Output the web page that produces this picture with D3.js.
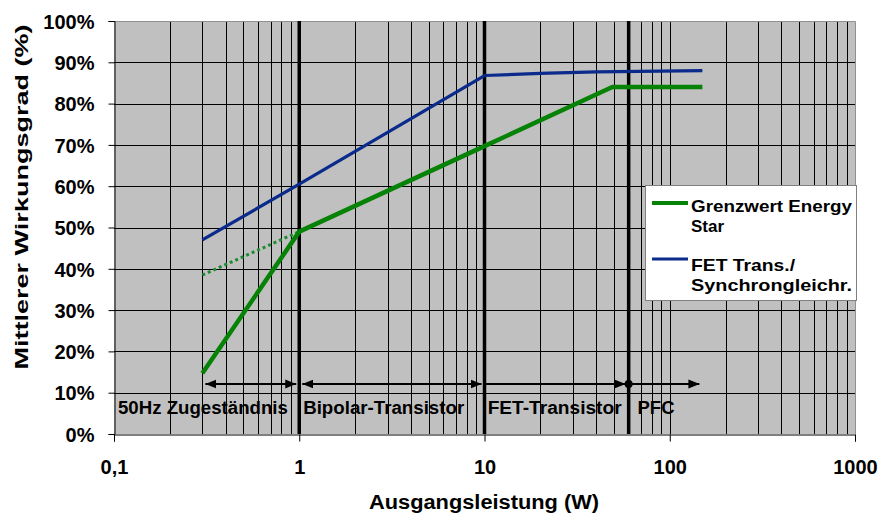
<!DOCTYPE html>
<html><head><meta charset="utf-8">
<script src="https://cdn.jsdelivr.net/npm/d3@7"></script>
<style>
body{margin:0;background:#fff;}
svg text{font-family:"Liberation Sans",Arial,sans-serif;font-weight:bold;fill:#000;}
</style></head>
<body><svg id="c" width="880" height="513"></svg>
<script>
// ---- data ----
const yTicks = [0,10,20,30,40,50,60,70,80,90,100];
const xTicks = [0.1,1,10,100,1000];
const xTickLabels = ["0,1","1","10","100","1000"];
const greenX = [0.3, 1, 10, 49, 150];
const greenY = [14.7, 49, 69.7, 84, 84];
const dottedX = [0.3, 1];
const dottedY = [38.5, 49];
const blueX = [0.3, 1, 10, 20, 40, 150];
const blueY = [47, 60.5, 86.8, 87.3, 87.7, 88];
const dividers = [1, 10, 60];
const regionLabels = ["50Hz Zugeständnis","Bipolar-Transistor","FET-Transistor","PFC"];
const regionLabelX = [0.105, 1.05, 10.4, 67];
const arrowFrom = [0.3, 1, 10, 60];
const arrowTo = [1, 10, 60, 150];
const arrowStartHead = [true, true, false, false];
const seriesNames = ["Grenzwert Energy Star","FET Trans./ Synchrongleichr."];

// ---- layout ----
const L=114, R=855, T=21, B=434;
const svg=d3.select("#c");
const x=d3.scaleLog().domain([0.1,1000]).range([L,R]);
const y=d3.scaleLinear().domain([0,100]).range([B,T]);

svg.append("rect").attr("x",L).attr("y",T).attr("width",R-L).attr("height",B-T).attr("fill","#c0c0c0");

// minor vertical grid
const minor=[];
for(let d=0.1; d<1000; d*=10){ for(let k=2;k<=9;k++) minor.push(d*k); }
svg.append("g").selectAll("line").data(minor.concat([1,10,100])).join("line")
 .attr("x1",d=>Math.round(x(d))+0.5).attr("x2",d=>Math.round(x(d))+0.5)
 .attr("y1",T).attr("y2",B).attr("stroke","#000").attr("stroke-width",1);
// horizontal grid
svg.append("g").selectAll("line").data(yTicks.slice(1)).join("line")
 .attr("x1",L).attr("x2",R).attr("y1",d=>Math.round(y(d))+0.5).attr("y2",d=>Math.round(y(d))+0.5)
 .attr("stroke","#000").attr("stroke-width",1);
// border top/right
svg.append("path").attr("d",`M${L},${T+0.5}H${R+0.5}V${B}`).attr("fill","none").attr("stroke","#909090");

// thick dividers
svg.append("g").selectAll("line").data(dividers).join("line")
 .attr("x1",d=>x(d)).attr("x2",d=>x(d)).attr("y1",T).attr("y2",B)
 .attr("stroke","#000").attr("stroke-width",3.5);

// axes
const yAxis=d3.axisLeft(y).tickValues(yTicks).tickFormat(d=>d+"%").tickSize(6).tickPadding(14);
const gy=svg.append("g").attr("transform",`translate(${L+0.5},0)`).call(yAxis);
gy.select(".domain").attr("stroke","#000");
gy.selectAll("text").style("font-size","20px").attr("dy","0.36em");
const xAxis=d3.axisBottom(x).tickValues(xTicks).tickFormat((d,i)=>xTickLabels[i]).tickSize(7).tickPadding(18);
const gx=svg.append("g").attr("transform",`translate(0,${B+0.5})`).call(xAxis);
gx.select(".domain").attr("stroke","#000");
gx.selectAll("text").style("font-size","20px");

// series
const line=d3.line().x(d=>x(d[0])).y(d=>y(d[1]));
svg.append("path").datum(dottedX.map((v,i)=>[v,dottedY[i]])).attr("d",line)
 .attr("fill","none").attr("stroke","#1e8a32").attr("stroke-width",3).attr("stroke-dasharray","3,3");
svg.append("path").datum(greenX.map((v,i)=>[v,greenY[i]])).attr("d",line)
 .attr("fill","none").attr("stroke","#068206").attr("stroke-width",4.5).attr("stroke-linejoin","round");
svg.append("path").datum(blueX.map((v,i)=>[v,blueY[i]])).attr("d",line)
 .attr("fill","none").attr("stroke","#0a2a8c").attr("stroke-width",3.2).attr("stroke-linejoin","round");

// arrows
const defs=svg.append("defs");
defs.append("marker").attr("id","ah").attr("viewBox","0 0 10 10").attr("refX",10).attr("refY",5)
 .attr("markerWidth",5).attr("markerHeight",5).attr("orient","auto-start-reverse").attr("markerUnits","strokeWidth")
 .append("path").attr("d","M0,1L10,5L0,9Z").attr("fill","#000");
const ay=384;
const ag=svg.append("g");
arrowFrom.forEach((f,i)=>{
  ag.append("line").attr("x1",x(f)+(arrowStartHead[i]?3:0)).attr("x2",x(arrowTo[i])-3)
   .attr("y1",ay).attr("y2",ay).attr("stroke","#000").attr("stroke-width",2.2)
   .attr("marker-end","url(#ah)").attr("marker-start",arrowStartHead[i]?"url(#ah)":null);
});
ag.append("circle").attr("cx",x(60)).attr("cy",ay).attr("r",4).attr("fill","#000");

// region labels
const rl=[[170],[161],[134],[37]];
svg.append("g").selectAll("text").data(regionLabels).join("text")
 .attr("x",(d,i)=>x(regionLabelX[i])).attr("y",414).style("font-size","18px")
 .attr("textLength",(d,i)=>rl[i][0]).attr("lengthAdjust","spacingAndGlyphs").text(d=>d);

// axis titles
svg.append("text").attr("transform","translate(28,197) rotate(-90)").attr("text-anchor","middle")
 .style("font-size","19px").attr("textLength",345).attr("lengthAdjust","spacingAndGlyphs").text("Mittlerer Wirkungsgrad (%)");
svg.append("text").attr("x",484).attr("y",509).attr("text-anchor","middle")
 .style("font-size","20px").attr("textLength",230).attr("lengthAdjust","spacingAndGlyphs").text("Ausgangsleistung (W)");

// legend
const lg=svg.append("g");
lg.append("rect").attr("x",645.5).attr("y",185.5).attr("width",211).attr("height",115)
 .attr("fill","#fff").attr("stroke","#808080");
const legColors=["#068206","#0a2a8c"];
const legLines=[["Grenzwert Energy","Star"],["FET Trans./","Synchrongleichr."]];
const legLen=[[161,null],[104,161]];
const legLineY=[203,259], legTextY=[[212,232],[271,291]];
seriesNames.forEach((n,i)=>{
  lg.append("line").attr("x1",652).attr("x2",688).attr("y1",legLineY[i]).attr("y2",legLineY[i])
   .attr("stroke",legColors[i]).attr("stroke-width",i?3:4);
  legLines[i].forEach((t,j)=>{
    const tx=lg.append("text").attr("x",691).attr("y",legTextY[i][j]).style("font-size","17px").text(t);
    if(legLen[i][j]) tx.attr("textLength",legLen[i][j]).attr("lengthAdjust","spacingAndGlyphs");
  });
});
</script></body></html>
